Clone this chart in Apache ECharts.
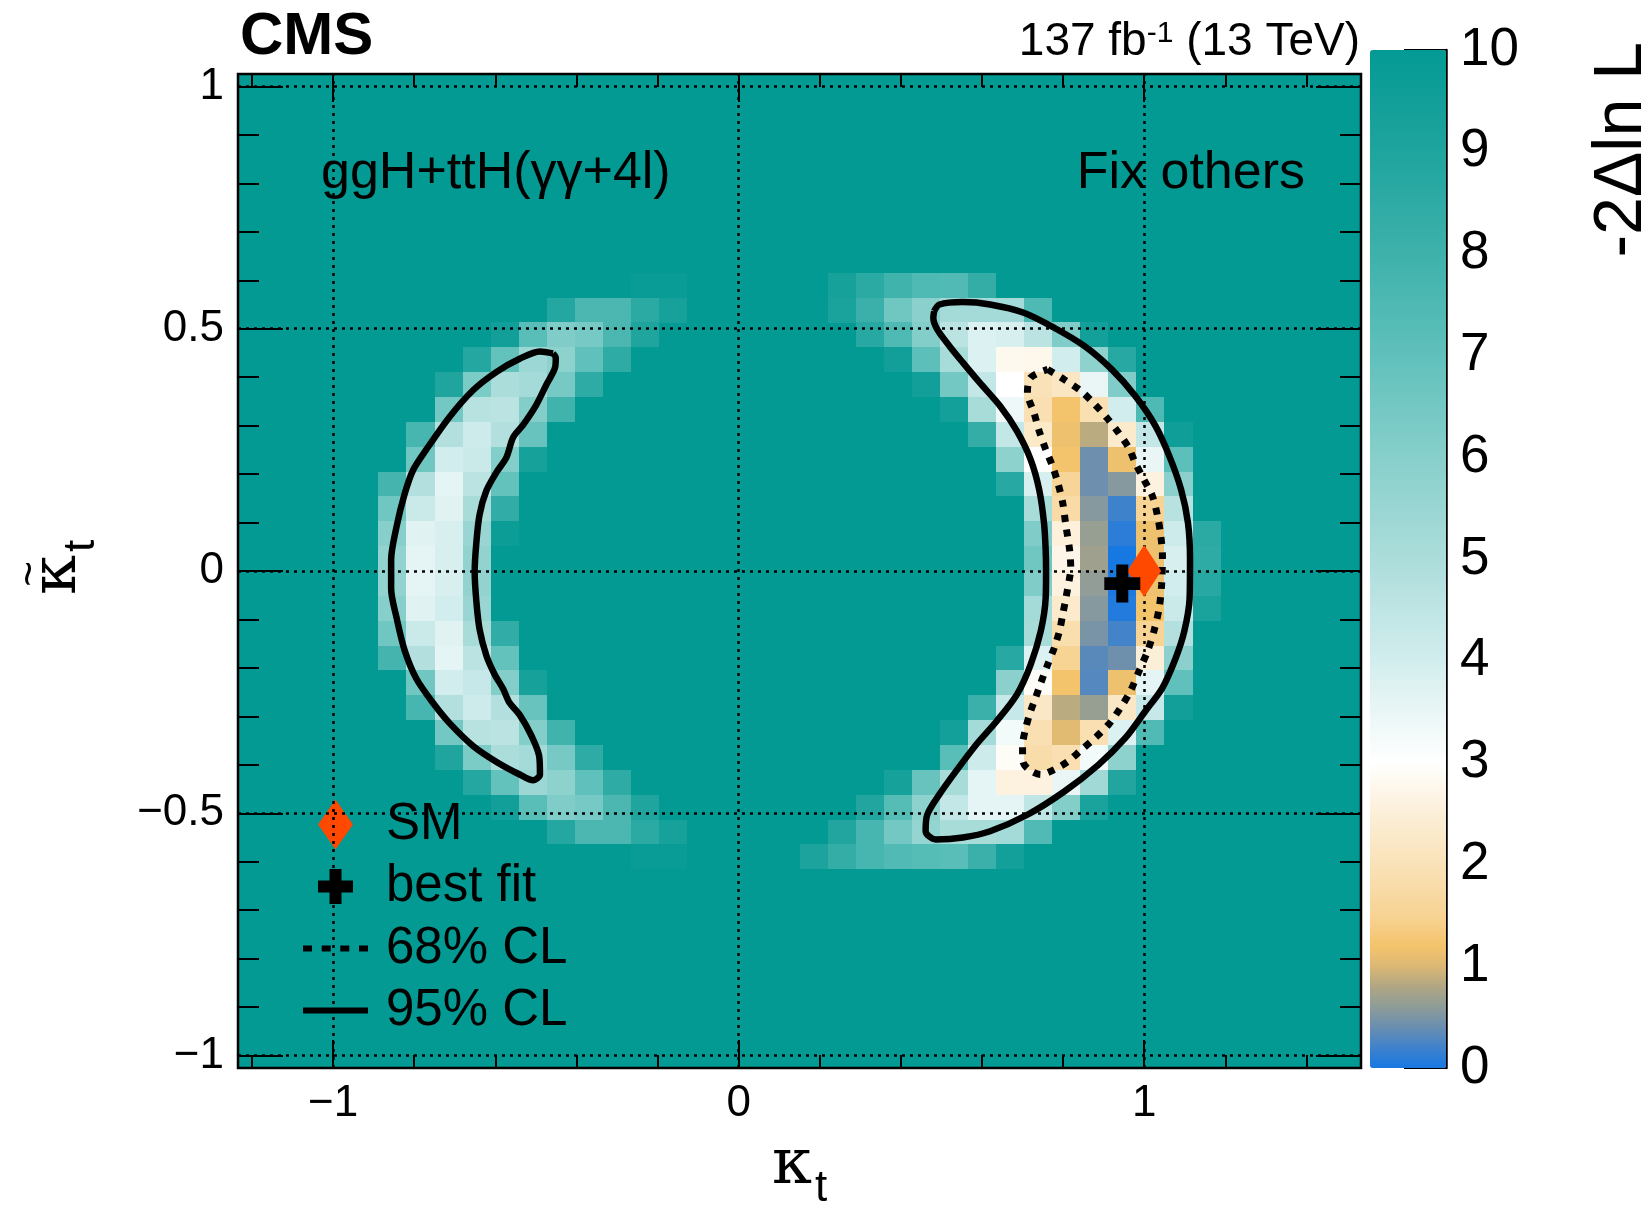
<!DOCTYPE html>
<html>
<head>
<meta charset="utf-8">
<title>kappa_t scan</title>
<script src="https://cdn.jsdelivr.net/npm/echarts@6/dist/echarts.min.js"></script>
<style>
  html, body { margin: 0; padding: 0; background: #fff; }
  #chart { width: 1650px; height: 1205px; }
</style>
</head>
<body>
<div id="chart"></div>
<script>
// scan points [from, to, number of points]
const kappaScan = [-1.2, 1.5, 40];
const kappaTildeScan = [-1, 1, 40];

// -2 delta lnL, one entry per scan row: [row, first column, values]
// every cell not listed is at or above 10
const leftCrescent = [
  [31, 14, [9.8, 9.8]],
  [30, 11, [8.8, 7.6, 7.6, 8.6, 9.3]],
  [29, 9, [9.5, 7.2, 6.2, 6.4, 7.6, 9.0]],
  [28, 8, [8.8, 6.9, 5.4, 5.8, 7.0, 8.5]],
  [27, 7, [9.0, 6.3, 5.0, 5.2, 6.4, 8.5]],
  [26, 7, [6.5, 4.7, 4.6, 6.1, 7.9]],
  [25, 6, [7.7, 4.8, 4.1, 4.8, 6.8]],
  [24, 6, [6.6, 4.0, 4.2, 6.1, 9.3]],
  [23, 5, [7.8, 4.8, 3.6, 4.6, 6.9]],
  [22, 5, [6.6, 4.2, 3.7, 5.1, 8.4]],
  [21, 5, [6.0, 3.7, 3.9, 5.5, 9.7]],
  [20, 5, [5.7, 3.6, 3.9, 5.7]],
  [19, 5, [5.7, 3.6, 3.9, 5.7]],
  [18, 5, [6.0, 3.7, 4.0, 5.5]],
  [17, 5, [6.6, 4.2, 3.7, 5.1, 8.4]],
  [16, 5, [7.8, 4.8, 3.6, 4.6, 6.9]],
  [15, 6, [6.6, 4.0, 4.3, 6.1, 9.3]],
  [14, 6, [7.7, 4.8, 4.1, 4.8, 6.8]],
  [13, 7, [6.5, 4.7, 4.6, 6.1, 7.9]],
  [12, 7, [9.0, 6.3, 5.0, 5.2, 6.4, 8.5]],
  [11, 8, [8.8, 6.9, 5.4, 5.8, 7.0, 8.5]],
  [10, 9, [9.5, 7.2, 6.2, 6.4, 7.6, 9.0]],
  [9, 11, [8.8, 7.6, 7.6, 8.6, 9.3]],
  [8, 14, [9.8, 9.8]]
];

const rightCrescent = [
  [31, 21, [9.3, 8.6, 7.9, 7.5, 7.4, 8.3]],
  [30, 21, [9.2, 8.1, 6.6, 5.9, 5.2, 5.2, 5.2, 7.5]],
  [29, 22, [8.7, 7.5, 6.1, 4.6, 3.8, 3.9, 4.6, 6.2, 9.4]],
  [28, 23, [9.5, 7.1, 5.1, 3.8, 2.8, 2.75, 4.0, 5.8, 8.7]],
  [27, 24, [9.5, 6.5, 4.4, 3.0, 2.0, 2.15, 3.5, 6.2]],
  [26, 25, [9.4, 5.1, 3.4, 1.9, 1.2, 1.9, 4.0, 7.5]],
  [25, 26, [8.3, 4.4, 2.25, 1.15, 0.85, 2.3, 4.4, 9.6]],
  [24, 27, [5.8, 3.0, 1.2, 0.42, 1.15, 3.5, 7.1]],
  [23, 27, [8.7, 3.9, 1.55, 0.42, 0.55, 2.6, 5.9]],
  [22, 28, [5.1, 1.75, 0.55, 0.2, 1.5, 4.7]],
  [21, 28, [6.2, 2.55, 0.65, 0.1, 1.15, 4.1, 8.6]],
  [20, 28, [6.6, 2.7, 0.7, 0.0, 1.15, 3.9, 8.5]],
  [19, 28, [6.2, 2.6, 0.62, 0.02, 1.15, 4.0, 8.7]],
  [18, 28, [5.2, 2.3, 0.55, 0.05, 1.2, 4.2, 9.2]],
  [17, 28, [5.1, 1.85, 0.48, 0.22, 1.5, 4.8]],
  [16, 27, [8.7, 3.8, 1.5, 0.32, 0.43, 2.5, 5.9]],
  [15, 27, [5.9, 2.9, 1.2, 0.3, 1.15, 3.6, 7.0]],
  [14, 26, [8.1, 4.3, 2.2, 0.85, 0.65, 2.2, 4.3, 9.5]],
  [13, 25, [9.4, 5.2, 3.3, 1.9, 1.05, 1.9, 3.8, 7.4]],
  [12, 25, [7.2, 4.1, 2.9, 1.8, 1.9, 3.3, 5.8]],
  [11, 23, [9.3, 6.8, 5.1, 3.6, 2.6, 2.6, 3.5, 5.3, 8.9]],
  [10, 22, [8.9, 7.3, 5.8, 4.4, 3.6, 3.6, 4.5, 6.1, 9.2]],
  [9, 21, [8.9, 7.7, 6.5, 5.6, 5.1, 5.1, 5.2, 7.4]],
  [8, 20, [9.1, 8.3, 7.7, 7.4, 7.3, 7.2, 8.1, 9.4]]
];

// contours [kappa_t, kappa_t tilde]
const contour95Right = [
  [0.482, 0.536], [0.495, 0.550], [0.553, 0.555], [0.620, 0.550], [0.703, 0.533], [0.778, 0.502],
  [0.853, 0.464], [0.920, 0.416], [0.978, 0.361], [1.028, 0.299], [1.062, 0.237], [1.091, 0.168],
  [1.108, 0.099], [1.113, 0.024], [1.112, -0.056], [1.099, -0.124], [1.078, -0.179], [1.045, -0.241],
  [1.003, -0.289], [0.953, -0.345], [0.887, -0.400], [0.803, -0.455], [0.712, -0.503], [0.620, -0.537],
  [0.553, -0.550], [0.486, -0.554], [0.461, -0.537], [0.465, -0.503], [0.495, -0.461], [0.536, -0.413],
  [0.586, -0.358], [0.636, -0.310], [0.686, -0.255], [0.720, -0.193], [0.745, -0.124], [0.757, -0.056],
  [0.758, 0.000], [0.757, 0.044], [0.753, 0.099], [0.741, 0.168], [0.720, 0.230], [0.686, 0.289],
  [0.645, 0.340], [0.595, 0.388], [0.553, 0.430], [0.520, 0.464], [0.490, 0.498], [0.480, 0.522],
  [0.482, 0.536]
];

const contour95Left = [
  [-0.458, 0.449], [-0.490, 0.453], [-0.540, 0.438], [-0.597, 0.411], [-0.655, 0.373], [-0.713, 0.318],
  [-0.770, 0.251], [-0.803, 0.208], [-0.824, 0.158], [-0.844, 0.090], [-0.857, 0.023], [-0.857, -0.036],
  [-0.844, -0.095], [-0.824, -0.163], [-0.795, -0.222], [-0.754, -0.272], [-0.713, -0.314], [-0.655, -0.361],
  [-0.597, -0.394], [-0.540, -0.420], [-0.507, -0.432], [-0.490, -0.420], [-0.492, -0.382], [-0.511, -0.340],
  [-0.540, -0.297], [-0.565, -0.272], [-0.581, -0.243], [-0.602, -0.213], [-0.622, -0.175], [-0.639, -0.120],
  [-0.647, -0.061], [-0.651, -0.002], [-0.647, 0.057], [-0.639, 0.116], [-0.622, 0.166], [-0.597, 0.204],
  [-0.573, 0.234], [-0.556, 0.276], [-0.532, 0.301], [-0.499, 0.343], [-0.474, 0.385], [-0.453, 0.419],
  [-0.451, 0.440], [-0.458, 0.449]
];

const contour68Right = [
  [0.762, 0.416], [0.803, 0.395], [0.845, 0.371], [0.878, 0.344], [0.908, 0.316], [0.937, 0.285],
  [0.962, 0.254], [0.978, 0.223], [0.999, 0.189], [1.020, 0.155], [1.033, 0.113], [1.041, 0.072],
  [1.045, 0.031], [1.043, -0.028], [1.037, -0.076], [1.024, -0.124], [1.008, -0.166], [0.987, -0.207],
  [0.966, -0.248], [0.941, -0.283], [0.912, -0.317], [0.878, -0.345], [0.845, -0.369], [0.812, -0.393],
  [0.778, -0.410], [0.745, -0.420], [0.716, -0.410], [0.701, -0.393], [0.700, -0.362], [0.707, -0.327],
  [0.720, -0.289], [0.732, -0.262], [0.745, -0.231], [0.762, -0.193], [0.778, -0.159], [0.791, -0.124],
  [0.799, -0.090], [0.807, -0.056], [0.816, -0.014], [0.819, 0.003], [0.816, 0.044], [0.807, 0.093],
  [0.799, 0.141], [0.787, 0.182], [0.774, 0.216], [0.757, 0.251], [0.741, 0.289], [0.728, 0.327],
  [0.712, 0.368], [0.720, 0.399], [0.762, 0.416]
];

const smPoint = [1, 0];
const bestFitPoint = [0.946, -0.026];

const xMajorTicks = [-1, 0, 1];
const xMinorTicks = [-1.2, -1, -0.8, -0.6, -0.4, -0.2, 0, 0.2, 0.4, 0.6, 0.8, 1, 1.2, 1.4];
const yMajorTicks = [-1, -0.5, 0, 0.5, 1];
const yMinorTicks = [-1, -0.9, -0.8, -0.7, -0.6, -0.5, -0.4, -0.3, -0.2, -0.1, 0,
  0.1, 0.2, 0.3, 0.4, 0.5, 0.6, 0.7, 0.8, 0.9, 1];

// colour palette stops [value, colour]
const paletteStops = [
  [0, '#1878e2'], [0.2, '#3f82cc'], [0.4, '#6a8eb0'], [0.6, '#8e9c98'], [0.8, '#b0a684'],
  [1.0, '#dcb874'], [1.2, '#f4c46c'], [1.5, '#f7d394'], [2.0, '#f9e2b8'], [2.5, '#fcefd8'],
  [3.0, '#ffffff'], [3.5, '#eaf6f6'], [4.0, '#d2eded'], [5.0, '#abdddb'], [6.0, '#87cfcb'],
  [7.0, '#60c0bb'], [8.0, '#3eb1ab'], [9.0, '#1fa49e'], [10, '#049a94']
];

const SANS = '"Liberation Sans", Arial, Helvetica, sans-serif';
const SERIF = '"DejaVu Serif", "Liberation Serif", serif';

const stepX = (kappaScan[1] - kappaScan[0]) / (kappaScan[2] - 1);
const stepY = (kappaTildeScan[1] - kappaTildeScan[0]) / (kappaTildeScan[2] - 1);
const xRange = [kappaScan[0] - stepX / 2, kappaScan[1] + stepX / 2];
const yRange = [kappaTildeScan[0] - stepY / 2, kappaTildeScan[1] + stepY / 2];

const cells = [];
leftCrescent.concat(rightCrescent).forEach(function (r) {
  r[2].forEach(function (v, k) {
    cells.push([kappaScan[0] + (r[1] + k) * stepX, kappaTildeScan[0] + r[0] * stepY, v]);
  });
});

function hexRgb(h) {
  return [parseInt(h.slice(1, 3), 16), parseInt(h.slice(3, 5), 16), parseInt(h.slice(5, 7), 16)];
}
const paletteColors = [];
for (let k = 0; k <= 100; k++) {
  const v = k / 10;
  let s = 0;
  while (s < paletteStops.length - 2 && paletteStops[s + 1][0] < v) s++;
  const a = paletteStops[s], b = paletteStops[s + 1];
  const t = Math.min(1, Math.max(0, (v - a[0]) / (b[0] - a[0])));
  const ca = hexRgb(a[1]), cb = hexRgb(b[1]);
  paletteColors.push('rgb(' + ca.map(function (c, i) { return Math.round(c + (cb[i] - c) * t); }).join(',') + ')');
}

function minus(v) { return String(v).replace('-', '\u2212'); }

function tickAxis(pos, range, ticks, len, labels) {
  return {
    type: 'value', gridIndex: 0, position: pos, min: range[0], max: range[1],
    axisLine: { show: false, onZero: false },
    splitLine: { show: false },
    axisTick: { show: true, inside: true, length: len, customValues: ticks, lineStyle: { color: '#000', width: 2 } },
    axisLabel: {
      show: labels, customValues: ticks, margin: 14, color: '#000',
      fontSize: 44, fontFamily: SANS, formatter: minus
    }
  };
}

// legend icons drawn in a 65 x 50 box
const box = 'M0,0h0.01v0.01h-0.01z M64.99,49.99h0.01v0.01h-0.01z ';
const iconDiamond = 'path://' + box + 'M32.5,0L50,25L32.5,50L15,25Z';
const iconPlus = 'path://' + box + 'M26.5,7.5h12v11.5h11.5v12h-11.5v11.5h-12v-11.5h-11.5v-12h11.5z';
const iconDash = 'path://' + box + 'M0,22h9v6h-9z M18.7,22h9v6h-9z M37.3,22h9v6h-9z M56,22h9v6h-9z';
const iconSolid = 'path://' + box + 'M0,22h65v6h-65z';

const chart = echarts.init(document.getElementById('chart'));

const gridLineStyle = { color: '#000', type: [3, 5], width: 2.5 };

const option = {
  animation: false,
  backgroundColor: '#fff',
  grid: [
    { left: 238, top: 74, width: 1123, height: 994, show: true, backgroundColor: '#049a94',
      borderColor: '#000', borderWidth: 2.5, outerBoundsMode: 'none' },
    { left: 1370, top: 50, width: 76, height: 1018, show: false, outerBoundsMode: 'none' }
  ],
  xAxis: [
    tickAxis('bottom', xRange, xMajorTicks, 28, true),
    tickAxis('bottom', xRange, xMinorTicks, 13, false),
    tickAxis('top', xRange, xMajorTicks, 28, false),
    tickAxis('top', xRange, xMinorTicks, 13, false),
    { type: 'value', gridIndex: 1, show: false, min: 0, max: 1 }
  ],
  yAxis: [
    tickAxis('left', yRange, yMajorTicks, 45, true),
    tickAxis('left', yRange, yMinorTicks, 21, false),
    tickAxis('right', yRange, yMajorTicks, 45, false),
    tickAxis('right', yRange, yMinorTicks, 21, false),
    {
      type: 'value', gridIndex: 1, position: 'right', min: 0, max: 10, interval: 1,
      axisLine: { show: true, onZero: false, lineStyle: { color: '#000', width: 2.5 } },
      axisTick: { show: true, inside: true, length: 42, lineStyle: { color: '#000', width: 2 } },
      axisLabel: { margin: 14, color: '#000', fontSize: 53, fontFamily: SANS },
      splitLine: { show: false }
    }
  ],
  visualMap: {
    type: 'continuous', min: 0, max: 10, dimension: 2, seriesIndex: 0,
    left: 1370, top: 50, itemWidth: 76, itemHeight: 1018, padding: 0,
    calculable: false, hoverLink: false,
    inRange: { color: paletteColors }
  },
  legend: {
    orient: 'vertical', left: 303, top: 799, padding: 0,
    itemWidth: 65, itemHeight: 50, itemGap: 11, selectedMode: false,
    textStyle: { fontSize: 51, fontFamily: SANS, color: '#000', lineHeight: 50, padding: [0, 0, 0, 13] },
    data: [
      { name: 'SM', icon: iconDiamond, itemStyle: { color: '#ff4800', borderWidth: 0, opacity: 1 } },
      { name: 'best fit', icon: iconPlus, itemStyle: { color: '#000', borderWidth: 0, opacity: 1 } },
      { name: '68% CL', icon: iconDash, itemStyle: { color: '#000', borderWidth: 0, opacity: 1 } },
      { name: '95% CL', icon: iconSolid, itemStyle: { color: '#000', borderWidth: 0, opacity: 1 } }
    ]
  },
  series: [
    {
      type: 'custom', name: 'scan', data: cells, encode: { x: 0, y: 1 }, z: 2, silent: true,
      renderItem: function (params, api) {
        const x = api.value(0), y = api.value(1);
        const a = api.coord([x - stepX / 2, y + stepY / 2]);
        const b = api.coord([x + stepX / 2, y - stepY / 2]);
        const x0 = Math.round(a[0]), y0 = Math.round(a[1]);
        return {
          type: 'rect',
          shape: { x: x0, y: y0, width: Math.round(b[0]) - x0, height: Math.round(b[1]) - y0 },
          style: { fill: api.visual('color') }
        };
      },
      markLine: {
        silent: true, symbol: 'none', label: { show: false }, z: 4,
        lineStyle: gridLineStyle,
        data: xMajorTicks.map(function (v) { return { xAxis: v }; })
          .concat(yMajorTicks.map(function (v) { return { yAxis: v }; }))
      }
    },
    {
      type: 'line', name: '95% CL', data: contour95Right, color: '#000', z: 6,
      symbol: 'none', smooth: 0.3, silent: true,
      lineStyle: { color: '#000', width: 6.5 }
    },
    {
      type: 'line', name: '95% CL', data: contour95Left, color: '#000', z: 6,
      symbol: 'none', smooth: 0.3, silent: true,
      lineStyle: { color: '#000', width: 6.5 }
    },
    {
      type: 'line', name: '68% CL', data: contour68Right, color: '#000', z: 6,
      symbol: 'none', smooth: 0.3, silent: true,
      lineStyle: { color: '#000', width: 7, type: [7, 8] }
    },
    {
      type: 'scatter', name: 'SM', data: [smPoint], z: 8, silent: true,
      symbol: 'path://M17,0L34,26L17,52L0,26Z', symbolSize: [34, 52],
      itemStyle: { color: '#ff4800', opacity: 1 }
    },
    {
      type: 'scatter', name: 'best fit', data: [bestFitPoint], z: 9, silent: true,
      symbol: 'path://M12,0h12v12h12v12h-12v12h-12v-12h-12v-12h12z', symbolSize: [36, 38],
      itemStyle: { color: '#000', opacity: 1 }
    }
  ],
  graphic: [
    { type: 'text', x: 240, y: 37, silent: true,
      style: { text: 'CMS', fontSize: 60, fontWeight: 'bold', fontFamily: SANS, fill: '#000',
        align: 'left', verticalAlign: 'middle', textAlign: 'left', textVerticalAlign: 'middle' } },
    { type: 'text', x: 1360, y: 42, silent: true,
      style: {
        text: '{a|137 fb}{b|-1}{a| (13 TeV)}', fill: '#000',
        align: 'right', verticalAlign: 'middle', textAlign: 'right', textVerticalAlign: 'middle',
        rich: {
          a: { fontSize: 46, fontFamily: SANS, fill: '#000', lineHeight: 46 },
          b: { fontSize: 30, fontFamily: SANS, fill: '#000', lineHeight: 14, verticalAlign: 'top' }
        }
      } },
    { type: 'text', x: 321, y: 174, silent: true,
      style: { text: 'ggH+ttH(\u03b3\u03b3+4l)', fontSize: 52, fontFamily: SANS, fill: '#000',
        align: 'left', verticalAlign: 'middle', textAlign: 'left', textVerticalAlign: 'middle' } },
    { type: 'text', x: 1305, y: 174, silent: true,
      style: { text: 'Fix others', fontSize: 52, fontFamily: SANS, fill: '#000',
        align: 'right', verticalAlign: 'middle', textAlign: 'right', textVerticalAlign: 'middle' } },
    // x axis title
    { type: 'text', x: 772, y: 1166, silent: true,
      style: { text: '\u03ba', fontSize: 64, fontFamily: SERIF, fill: '#000',
        align: 'left', verticalAlign: 'middle', textAlign: 'left', textVerticalAlign: 'middle' } },
    { type: 'text', x: 815, y: 1189, silent: true,
      style: { text: 't', fontSize: 44, fontFamily: SANS, fill: '#000',
        align: 'left', verticalAlign: 'middle', textAlign: 'left', textVerticalAlign: 'middle' } },
    // y axis title
    { type: 'text', x: 58, y: 595, rotation: Math.PI / 2, silent: true,
      style: { text: '\u03ba', fontSize: 64, fontFamily: SERIF, fill: '#000',
        align: 'left', verticalAlign: 'middle', textAlign: 'left', textVerticalAlign: 'middle' } },
    { type: 'text', x: 31, y: 574, rotation: Math.PI / 2, silent: true,
      style: { text: '~', fontSize: 44, fontFamily: SANS, fill: '#000',
        align: 'center', verticalAlign: 'middle', textAlign: 'center', textVerticalAlign: 'middle' } },
    { type: 'text', x: 82, y: 552, rotation: Math.PI / 2, silent: true,
      style: { text: 't', fontSize: 44, fontFamily: SANS, fill: '#000',
        align: 'left', verticalAlign: 'middle', textAlign: 'left', textVerticalAlign: 'middle' } },
    // colour axis title
    { type: 'text', x: 1622, y: 42, rotation: Math.PI / 2, silent: true,
      style: { text: '-2\u0394ln L', fontSize: 68, fontFamily: SANS, fill: '#000',
        align: 'right', verticalAlign: 'middle', textAlign: 'right', textVerticalAlign: 'middle' } }
  ]
};

chart.setOption(option);
</script>
</body>
</html>
